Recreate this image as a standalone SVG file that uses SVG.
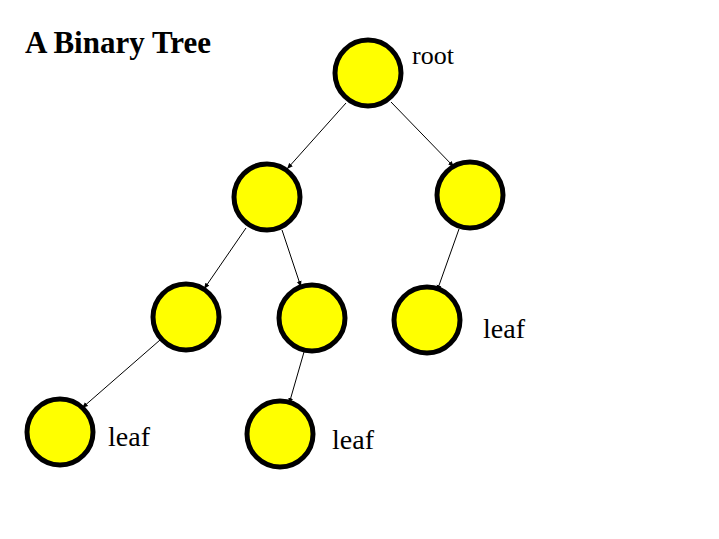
<svg xmlns="http://www.w3.org/2000/svg" width="719" height="539" viewBox="0 0 719 539">
<style>
.n{fill:#ffff00;stroke:#000;stroke-width:5}
.e{stroke:#000;stroke-width:1;fill:none;marker-end:url(#a)}
.t{font-family:"Liberation Serif",serif;font-size:28px;fill:#000}
</style>
<defs><marker id="a" viewBox="0 0 10 10" refX="10" refY="5" markerWidth="6" markerHeight="6" orient="auto"><path d="M0,1 L10,5 L0,9 Z" fill="#000"/></marker></defs>
<rect width="719" height="539" fill="#fff"/>
<text x="25" y="53" class="t" style="font-weight:bold;font-size:31px">A Binary Tree</text>
<g id="connectors">
<line class="e" x1="346" y1="103" x2="287" y2="169"/>
<line class="e" x1="391" y1="102" x2="454" y2="167"/>
<line class="e" x1="246" y1="228" x2="204" y2="289"/>
<line class="e" x1="282" y1="230" x2="301" y2="287"/>
<line class="e" x1="459" y1="229" x2="437" y2="291"/>
<line class="e" x1="160" y1="340" x2="82" y2="408"/>
<line class="e" x1="304" y1="352" x2="289" y2="404"/>
</g>
<g id="root"><circle class="n" cx="368" cy="73" r="33"/><text class="t" x="412" y="64" style="font-size:26px">root</text></g>
<g id="n1"><circle class="n" cx="267" cy="197" r="33"/></g>
<g id="n2"><circle class="n" cx="470" cy="195" r="33"/></g>
<g id="n3"><circle class="n" cx="186" cy="317" r="33"/></g>
<g id="n4"><circle class="n" cx="312" cy="318" r="33"/></g>
<g id="n5"><circle class="n" cx="427" cy="320" r="33"/><text class="t" x="483" y="338">leaf</text></g>
<g id="n6"><circle class="n" cx="60" cy="432" r="33"/><text class="t" x="108" y="446">leaf</text></g>
<g id="n7"><circle class="n" cx="280" cy="434" r="33"/><text class="t" x="332" y="449">leaf</text></g>
</svg>
